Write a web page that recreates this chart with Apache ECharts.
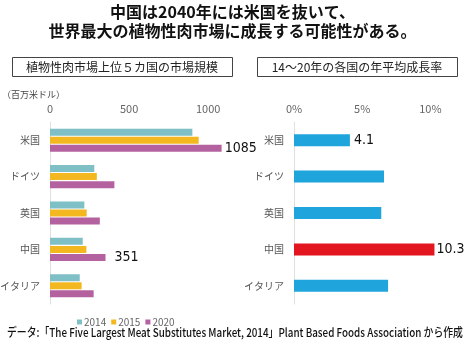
<!DOCTYPE html>
<html>
<head>
<meta charset="utf-8">
<script src="https://cdn.jsdelivr.net/npm/echarts@6/dist/echarts.min.js"></script>
<style>
  html, body { margin: 0; padding: 0; background: #fff; }
  #chart { width: 465px; height: 351px; }
</style>
</head>
<body>
<div id="chart"></div>
<script>
// categories (top to bottom)
const countries = ['米国', 'ドイツ', '英国', '中国', 'イタリア']
// market size, million USD
const size2014 = [900, 280, 217, 207, 188]
const size2015 = [940, 296, 232, 230, 200]
const size2020 = [1085, 407, 315, 351, 276]
// average annual growth 2014-2020, %
const growth = [4.1, 6.6, 6.4, 10.3, 6.9]
const sizeTicks = [0, 500, 1000]

const FONT = '"Noto Sans CJK JP", "Noto Sans", sans-serif'
const NUM_FONT = '"Liberation Sans Narrow", "DejaVu Sans Condensed", Roboto, sans-serif'

const valLabel = (dist) => ({
  show: true,
  position: 'right',
  distance: dist,
  color: '#111',
  fontSize: 14,
  fontFamily: NUM_FONT
})

let myChart = echarts.init(document.getElementById('chart'))

const catAxis = (gridIndex) => ({
  type: 'category',
  gridIndex: gridIndex,
  data: countries,
  inverse: true,
  axisTick: { show: false },
  axisLine: { lineStyle: { color: '#e0e0e0' } },
  axisLabel: { color: '#555', fontSize: 10, margin: 10, fontFamily: FONT }
})

myChart.setOption({
  animation: false,
  textStyle: { fontFamily: FONT },
  legend: {
    left: 72,
    top: 312,
    icon: 'rect',
    itemWidth: 5,
    itemHeight: 5,
    itemGap: 5,
    textStyle: { color: '#666', fontSize: 10, padding: [0, 0, 0, -3] },
    data: ['2014', '2015', '2020']
  },
  grid: [
    { left: 50, right: 241, top: 122, bottom: 47, outerBoundsMode: 'none' },
    { left: 294, right: 21, top: 122, bottom: 47, outerBoundsMode: 'none' }
  ],
  xAxis: [
    {
      type: 'value',
      gridIndex: 0,
      position: 'top',
      min: 0,
      max: 1100,
      interval: 500,
      splitLine: { show: false },
      axisLine: { show: false },
      axisTick: { show: false },
      axisLabel: {
        color: '#666', fontSize: 11, margin: 8, showMaxLabel: false,
        formatter: (v) => sizeTicks.includes(v) ? String(v) : ''
      }
    },
    {
      type: 'value',
      gridIndex: 1,
      position: 'top',
      min: 0,
      max: 11,
      interval: 5,
      splitLine: { show: false },
      axisLine: { show: false },
      axisTick: { show: false },
      axisLabel: {
        color: '#666', fontSize: 11, margin: 8, showMaxLabel: false,
        formatter: '{value}%'
      }
    }
  ],
  yAxis: [catAxis(0), catAxis(1)],
  series: [
    {
      name: '2014', type: 'bar', xAxisIndex: 0, yAxisIndex: 0,
      barWidth: 7, barGap: '15%', color: '#7fbfc6',
      data: size2014
    },
    {
      name: '2015', type: 'bar', xAxisIndex: 0, yAxisIndex: 0,
      barWidth: 7, barGap: '15%', color: '#f3b81f',
      data: size2015
    },
    {
      name: '2020', type: 'bar', xAxisIndex: 0, yAxisIndex: 0,
      barWidth: 7, barGap: '15%', color: '#b4629f',
      data: size2020.map((v, i) => {
        if (i === 0) return { value: v, label: valLabel(3) }
        if (i === 3) return { value: v, label: valLabel(9) }
        return v
      })
    },
    {
      name: 'growth', type: 'bar', xAxisIndex: 1, yAxisIndex: 1,
      barWidth: 12, color: '#1fa4dc',
      data: growth.map((v, i) => {
        if (i === 0) return { value: v, label: valLabel(4) }
        if (i === 3) return { value: v, itemStyle: { color: '#e3161f' }, label: valLabel(2) }
        return v
      })
    }
  ],
  graphic: [
    {
      type: 'text', left: 'center', top: 4,
      style: { text: '中国は2040年には米国を抜いて、', font: 'bold 16px ' + FONT, fill: '#111' }
    },
    {
      type: 'text', left: 'center', top: 23,
      style: { text: '世界最大の植物性肉市場に成長する可能性がある。', font: 'bold 16px ' + FONT, fill: '#111' }
    },
    {
      type: 'rect', shape: { x: 12.5, y: 57.5, width: 220, height: 19 },
      style: { fill: '#fff', stroke: '#444', lineWidth: 1 }
    },
    {
      type: 'text', x: 122, y: 67,
      style: { text: '植物性肉市場上位５カ国の市場規模', font: '12px ' + FONT, fill: '#222', align: 'center', verticalAlign: 'middle' }
    },
    {
      type: 'rect', shape: { x: 257.5, y: 57.5, width: 200, height: 19 },
      style: { fill: '#fff', stroke: '#444', lineWidth: 1 }
    },
    {
      type: 'text', x: 357, y: 67,
      style: { text: '14～20年の各国の年平均成長率', font: '12px ' + FONT, fill: '#222', align: 'center', verticalAlign: 'middle' }
    },
    {
      type: 'text', x: 2, y: 95,
      style: { text: '（百万米ドル）', font: '9px ' + FONT, fill: '#444', verticalAlign: 'middle' }
    },
    {
      type: 'text', x: 7, y: 332, scaleX: 0.82,
      style: {
        text: 'データ:「The Five Largest Meat Substitutes Market, 2014」Plant Based Foods Association から作成',
        font: '500 12px ' + FONT, fill: '#111', verticalAlign: 'middle'
      }
    }
  ]
})
</script>
</body>
</html>
